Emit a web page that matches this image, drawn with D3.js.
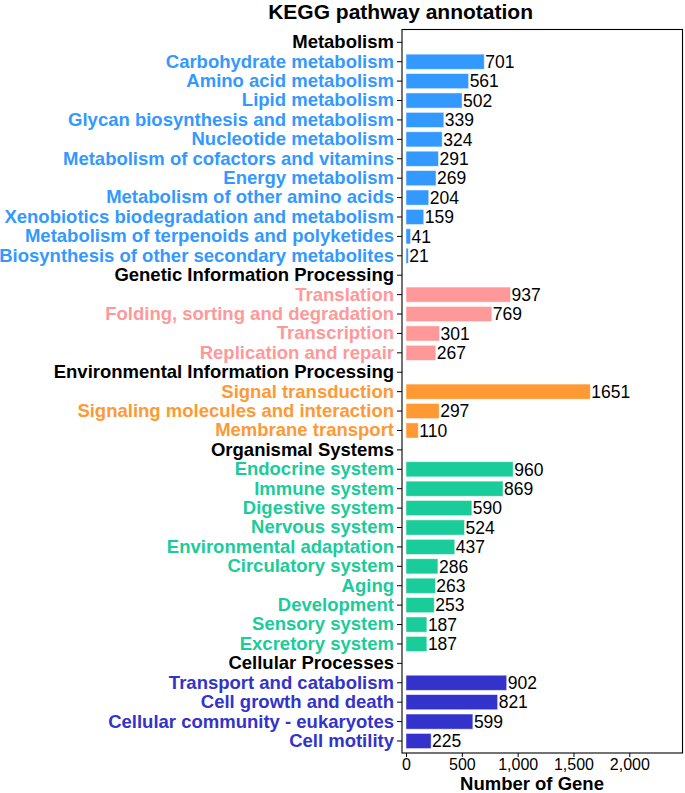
<!DOCTYPE html>
<html>
<head>
<meta charset="utf-8">
<script src="https://cdn.jsdelivr.net/npm/d3@7"></script>
<style>
  body { margin: 0; background: #fff; }
  text { font-family: "Liberation Sans", Arial, sans-serif; }
</style>
</head>
<body>
<script>
// KEGG groups, in drawing order
const groups = ['Metabolism', 'Genetic Information Processing', 'Environmental Information Processing',
  'Organismal Systems', 'Cellular Processes'];
const groupColors = ['#3399FF', '#FF9999', '#FF9933', '#1ACC99', '#3333CC'];

const metabolismNames = ['Carbohydrate metabolism', 'Amino acid metabolism', 'Lipid metabolism',
  'Glycan biosynthesis and metabolism', 'Nucleotide metabolism', 'Metabolism of cofactors and vitamins',
  'Energy metabolism', 'Metabolism of other amino acids', 'Xenobiotics biodegradation and metabolism',
  'Metabolism of terpenoids and polyketides', 'Biosynthesis of other secondary metabolites'];
const metabolismValues = [701, 561, 502, 339, 324, 291, 269, 204, 159, 41, 21];

const geneticNames = ['Translation', 'Folding, sorting and degradation', 'Transcription', 'Replication and repair'];
const geneticValues = [937, 769, 301, 267];

const environmentalNames = ['Signal transduction', 'Signaling molecules and interaction', 'Membrane transport'];
const environmentalValues = [1651, 297, 110];

const organismalNames = ['Endocrine system', 'Immune system', 'Digestive system', 'Nervous system',
  'Environmental adaptation', 'Circulatory system', 'Aging', 'Development', 'Sensory system', 'Excretory system'];
const organismalValues = [960, 869, 590, 524, 437, 286, 263, 253, 187, 187];

const cellularNames = ['Transport and catabolism', 'Cell growth and death', 'Cellular community - eukaryotes', 'Cell motility'];
const cellularValues = [902, 821, 599, 225];

const xTicks = [0, 500, 1000, 1500, 2000];

// build the row list: a header row per group, then its pathways
const groupNames = [metabolismNames, geneticNames, environmentalNames, organismalNames, cellularNames];
const groupValues = [metabolismValues, geneticValues, environmentalValues, organismalValues, cellularValues];
const rows = [];
groups.forEach((g, gi) => {
  rows.push({ name: g, header: true, color: '#000' });
  groupNames[gi].forEach((n, i) => {
    rows.push({ name: n, value: groupValues[gi][i], color: groupColors[gi] });
  });
});

const width = 685, height = 793;
const box = { left: 402, right: 682.5, top: 29.5, bottom: 753 };

const svg = d3.select('body').append('svg')
  .attr('width', width)
  .attr('height', height);

const x = d3.scaleLinear()
  .domain([0, d3.max(rows, d => d.value || 0) * 1.5])
  .range([406, box.right]);

const y = d3.scaleBand()
  .domain(rows.map(d => d.name))
  .range([32.6, 750.7])
  .paddingInner(0.22)
  .paddingOuter(0.11);

// title
svg.append('text')
  .attr('x', 533)
  .attr('y', 19)
  .attr('text-anchor', 'end')
  .attr('font-size', 21)
  .attr('font-weight', 'bold')
  .text('KEGG pathway annotation');

// bars
const bars = rows.filter(d => !d.header);
svg.selectAll('rect.bar')
  .data(bars)
  .enter()
  .append('rect')
  .attr('class', 'bar')
  .attr('x', x(0))
  .attr('y', d => y(d.name))
  .attr('width', d => x(d.value) - x(0))
  .attr('height', y.bandwidth())
  .attr('fill', d => d.color)
  .attr('stroke', '#fff')
  .attr('stroke-opacity', 0.6)
  .attr('stroke-width', 0.8);

// value labels
svg.selectAll('text.value')
  .data(bars)
  .enter()
  .append('text')
  .attr('class', 'value')
  .attr('x', d => x(d.value) + 1)
  .attr('y', d => y(d.name) + y.bandwidth() / 2)
  .attr('dy', '0.36em')
  .attr('font-size', 17.5)
  .attr('fill', '#000')
  .text(d => d.value);

// y axis (labels coloured by group)
const yAxis = svg.append('g')
  .attr('transform', `translate(${box.left},0)`)
  .call(d3.axisLeft(y).tickSize(5).tickPadding(3));
yAxis.select('.domain').remove();
yAxis.selectAll('.tick line').attr('stroke', '#000').attr('stroke-width', 1);
yAxis.selectAll('.tick text')
  .attr('font-size', 18.5)
  .attr('font-weight', 'bold')
  .attr('font-family', '"Liberation Sans", Arial, sans-serif')
  .attr('fill', (d, i) => rows[i].color);

// x axis
const xAxis = svg.append('g')
  .attr('transform', `translate(0,${box.bottom})`)
  .call(d3.axisBottom(x).tickValues(xTicks).tickFormat(d3.format(',')).tickSize(4).tickPadding(2));
xAxis.select('.domain').remove();
xAxis.selectAll('.tick line').attr('stroke', '#000');
xAxis.selectAll('.tick text')
  .attr('font-size', 16)
  .attr('font-family', '"Liberation Sans", Arial, sans-serif')
  .attr('fill', '#000');

// panel border
svg.append('rect')
  .attr('x', box.left)
  .attr('y', box.top)
  .attr('width', box.right - box.left)
  .attr('height', box.bottom - box.top)
  .attr('fill', 'none')
  .attr('stroke', '#000')
  .attr('stroke-width', 1.1);

// axis title
svg.append('text')
  .attr('x', 532)
  .attr('y', 790)
  .attr('text-anchor', 'middle')
  .attr('font-size', 18.5)
  .attr('font-weight', 'bold')
  .text('Number of Gene');
</script>
</body>
</html>
